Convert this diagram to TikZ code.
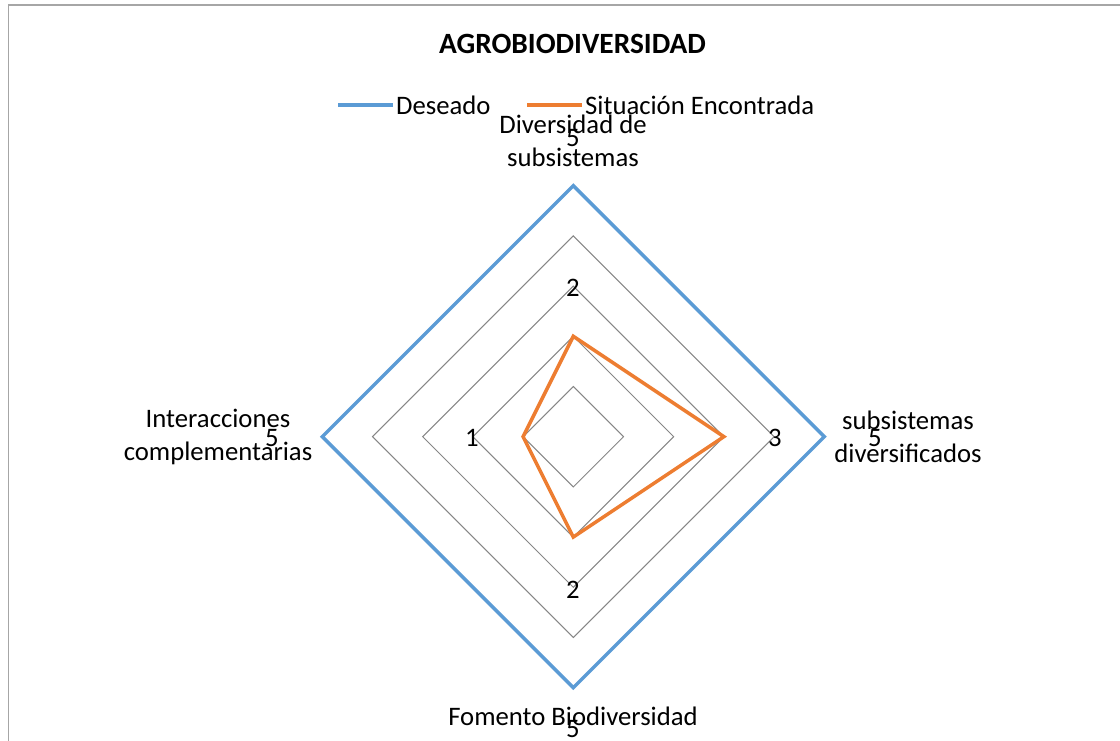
\documentclass[tikz,border=0pt]{standalone}
\usepackage{fontspec}
\setmainfont{Carlito}
\usetikzlibrary{calc}
\begin{document}
\begin{tikzpicture}[x=1pt,y=-1pt,
  lbl/.style={font=\fontsize{26.7}{32.5}\selectfont, text=black, inner sep=0pt, align=center},
  grid/.style={draw=gray!95, line width=1pt, line join=miter},
  deseado/.style={draw=blue5, line width=3.5pt, line join=miter},
  situ/.style={draw=orange5, line width=3.5pt, line join=miter}]
\definecolor{blue5}{HTML}{5B9BD5}
\definecolor{orange5}{HTML}{ED7D31}
\definecolor{gray5}{HTML}{A6A6A6}
\useasboundingbox (0,0) rectangle (1120,741);
% frame
\draw[gray5, line width=1.6pt] (8.5,741) -- (8.5,5) -- (1120,5);
% grid rings
\coordinate (c) at (573.3,436.7);
\foreach \r in {1,2,3,4} {
  \draw[grid] ($(c)+(0,-50.2*\r)$) -- ($(c)+(50.2*\r,0)$) -- ($(c)+(0,50.2*\r)$) -- ($(c)+(-50.2*\r,0)$) -- cycle;
}
% Deseado (5,5,5,5)
\draw[deseado] ($(c)+(0,-251)$) -- ($(c)+(251,0)$) -- ($(c)+(0,251)$) -- ($(c)+(-251,0)$) -- cycle;
% Situacion (2,3,2,1)
\draw[situ] ($(c)+(0,-100.4)$) -- ($(c)+(150.6,0)$) -- ($(c)+(0,100.4)$) -- ($(c)+(-50.2,0)$) -- cycle;
% title
\node[font=\fontsize{29.4}{34}\selectfont\bfseries, inner sep=0pt] (title) at (572.5,44) {AGROBIODIVERSIDAD};
% legend
\coordinate (l1a) at (338,105); \coordinate (l1b) at (393,105);
\coordinate (l2a) at (527,105); \coordinate (l2b) at (582,105);
\draw[blue5, line width=3.5pt] (l1a) -- (l1b);
\draw[orange5, line width=3.5pt] (l2a) -- (l2b);
\node[lbl, anchor=west] (leg1) at (396,105) {Deseado};
\node[lbl, anchor=west] (leg2) at (585,105) {Situación Encontrada};
% category labels
\node[lbl] (cat1) at (573,141) {Diversidad de\\subsistemas};
\node[lbl] (cat2) at (908,437) {subsistemas\\diversificados};
\node[lbl] (cat3) at (573,716) {Fomento Biodiversidad};
\node[lbl] (cat4) at (218,437) {Interacciones\\complementarias};
% value labels
\node[lbl] (v1) at (573,138) {5};
\node[lbl] (v2) at (573,288) {2};
\node[lbl] (v3) at (775,438) {3};
\node[lbl] (v4) at (875,438) {5};
\node[lbl] (v5) at (573,590) {2};
\node[lbl] (v6) at (573,729) {5};
\node[lbl] (v7) at (472,438) {1};
\node[lbl] (v8) at (272,438) {5};
\end{tikzpicture}
\end{document}
